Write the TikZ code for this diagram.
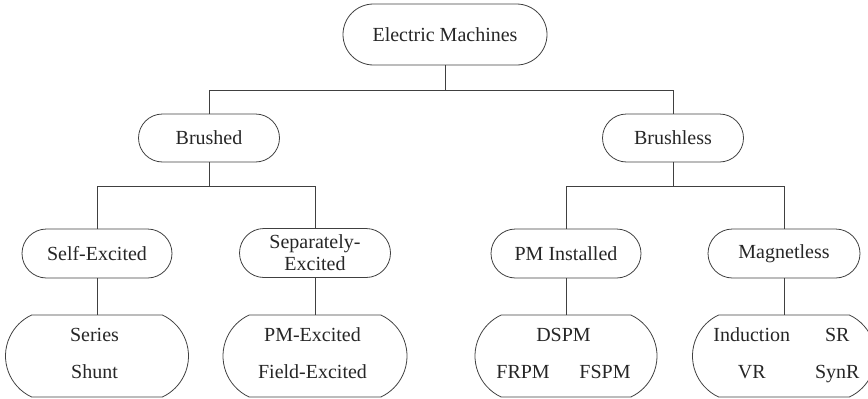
\documentclass[tikz,border=0pt]{standalone}
\usepackage{fontspec}
\setmainfont{Liberation Serif}
\usetikzlibrary{shapes.misc}
\tikzset{
	machine/.style={draw=black!75, line width=0.8pt, rounded rectangle, inner sep=0pt, align=center, minimum height=49pt, minimum width=150pt, text=black!85, font=\fontsize{20}{22}\selectfont},
	family/.style={machine, rounded rectangle arc length=130, minimum height=82pt},
	link/.style={draw=black!75, line width=0.8pt}
}
\begin{document}
\begin{tikzpicture}[x=1pt,y=-1pt]
			\useasboundingbox (0,0) rectangle (868,399);
			\node (machines) [machine, minimum width=204pt, minimum height=61pt] at (445,34.5) {Electric Machines};
			\node (brushed) [machine, minimum width=141pt, minimum height=48pt] at (209,138) {Brushed};
			\node (brushless) [machine, minimum width=141pt, minimum height=48pt] at (673,138) {Brushless};
			\node (selfexc) [machine] at (97,253.5) {Self-Excited};
			\node (sepexc) [machine, minimum width=151pt] at (315,253) {Separately-\\Excited};
			\node (pminst) [machine] at (566,253.5) {PM Installed};
			\node (magless) [machine, minimum width=152pt] at (784,253.5) {Magnetless};
			\node (selftypes) [family, minimum width=183pt] at (97,356) {
				\begin{tabular}{c}
					Series \\[15pt]
					Shunt
				\end{tabular}
			};
			\node (septypes) [family, minimum width=184pt] at (315,356) {
				\begin{tabular}{c}
					PM-Excited \\[15pt]
					Field-Excited
				\end{tabular}
			};
			\node (pmtypes) [family, minimum width=182pt] at (566,356) {
				\begin{tabular}{@{}c@{\hspace{29.7pt}}c@{}}
					\multicolumn{2}{c}{DSPM} \\[15pt]
					FRPM & FSPM
				\end{tabular}
			};
			\node (magtypes) [family, minimum width=166pt] at (784,356) {
				\begin{tabular}{@{\hspace{10pt}}c@{\hspace{25pt}}c@{}}
					Induction & SR \\[15pt]
					VR & SynR
				\end{tabular}
			};
			\draw [link] (machines.south) -- ++(0,25) -| (brushed.north);
			\draw [link] (machines.south) -- ++(0,25) -| (brushless.north);
			\draw [link] (brushed.south) -- ++(0,24) -| (selfexc.north);
			\draw [link] (brushed.south) -- ++(0,24) -| (sepexc.north);
			\draw [link] (brushless.south) -- ++(0,24) -| (pminst.north);
			\draw [link] (brushless.south) -- ++(0,24) -| (magless.north);
			\draw [link] (selfexc.south) -- (selftypes.north);
			\draw [link] (sepexc.south) -- (septypes.north);
			\draw [link] (pminst.south) -- (pmtypes.north);
			\draw [link] (magless.south) -- (magtypes.north);
		\end{tikzpicture}
\end{document}
